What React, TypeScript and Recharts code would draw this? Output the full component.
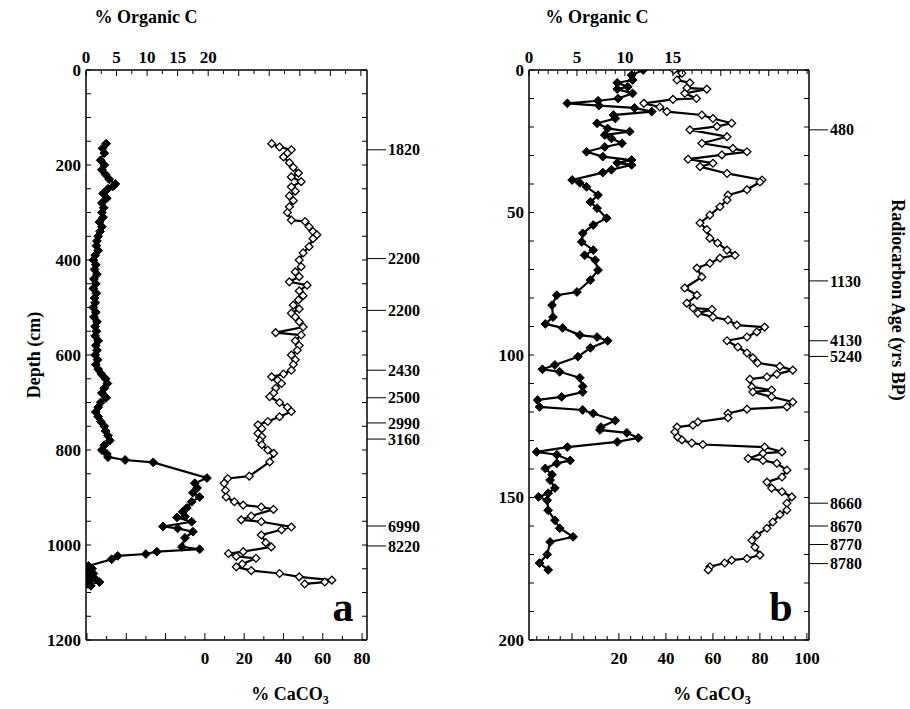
import React from 'react';
import { ScatterChart, Scatter, XAxis, YAxis, Label } from 'recharts';

const FONT = '"Liberation Serif", "Times New Roman", Times, serif';

// ---------- Panel a (depth cm, value) ----------
const aOrganicC: [number, number][] = [
  [155, 3.3], [165, 2.7], [175, 3.0], [190, 2.4], [200, 3.0], [210, 2.6], [220, 3.2], [230, 3.8], [240, 4.8], [245, 4.4],
  [250, 3.6], [260, 2.8], [270, 3.4], [280, 2.6], [290, 2.9], [300, 2.6], [310, 2.8], [320, 2.2], [330, 2.6], [340, 2.3],
  [350, 2.0], [360, 1.8], [370, 1.7], [380, 2.0], [390, 1.5], [400, 1.2], [410, 1.6], [420, 1.4], [430, 1.8], [440, 1.3],
  [450, 1.6], [460, 1.2], [470, 1.7], [480, 1.4], [490, 1.5], [500, 1.2], [510, 1.6], [520, 1.3], [530, 1.8], [540, 1.5],
  [550, 1.7], [560, 1.5], [570, 2.0], [580, 1.6], [590, 1.8], [600, 1.5], [610, 1.9], [620, 1.6], [630, 2.0], [640, 2.5],
  [650, 3.2], [660, 3.5], [670, 3.0], [680, 2.6], [690, 3.3], [700, 2.4], [710, 2.0], [720, 1.6], [730, 2.0], [740, 2.4],
  [750, 3.0], [760, 3.2], [770, 3.6], [780, 3.9], [790, 3.0], [800, 2.6], [808, 3.4], [815, 3.6], [821, 6.4], [826, 11.0],
  [859, 19.8], [870, 17.8], [880, 18.2], [890, 17.5], [899, 18.6], [909, 17.3], [922, 16.5], [930, 15.8], [940, 16.2], [942, 14.9],
  [951, 17.3], [961, 12.6], [965, 15.0], [972, 17.5], [985, 16.2], [1004, 15.7], [1009, 18.6], [1014, 11.6], [1019, 9.8], [1023, 5.2],
  [1030, 4.2], [1044, 0.4], [1050, 1.0], [1055, 0.3], [1060, 1.2], [1065, 0.5], [1070, 1.4], [1075, 0.6], [1078, 2.2], [1082, 0.3],
  [1086, 0.8],
];

const aCaCO3: [number, number][] = [
  [155, 34], [162, 38], [168, 44], [175, 42], [183, 40], [195, 43], [205, 45], [217, 47.6], [225, 44], [235, 49],
  [246, 44], [255, 46], [265, 43], [275, 45], [288, 43], [300, 42], [316, 44], [319, 51], [330, 53], [340, 55],
  [347, 57], [355, 55], [372, 53], [385, 50], [400, 48], [414, 49], [425, 46], [435, 48], [446, 43], [453, 52],
  [465, 48], [475, 50], [484, 47.6], [495, 45], [503, 48], [512, 44], [520, 46], [530, 48], [541, 50], [553, 36],
  [558, 49], [570, 46], [580, 48], [590, 47], [600, 44], [610, 46], [620, 45], [632, 44], [640, 40], [646, 34],
  [653, 37], [660, 39], [670, 36], [680, 35], [688, 33], [700, 38], [710, 42], [719, 44], [730, 38], [740, 32],
  [747, 27], [755, 29], [765, 27], [772, 29], [780, 28], [789, 29], [800, 32], [807, 35], [825, 33], [855, 22.6],
  [860, 11.6], [870, 9.8], [885, 10.5], [899, 10.8], [909, 15], [916, 19.5], [920, 28.7], [925, 34.9], [939, 23.6], [947, 18.5],
  [951, 28.7], [962, 44], [968, 39], [979, 28.7], [995, 31], [1004, 33.8], [1014, 19.5], [1018, 12], [1024, 16], [1028, 26],
  [1040, 19], [1046, 16], [1054, 23.6], [1060, 38], [1067, 48], [1074, 64.6], [1078, 61], [1082, 50.8],
];

const aAges: [number, string][] = [
  [168, '1820'], [397, '2200'], [506, '2200'], [632, '2430'], [690, '2500'],
  [743, '2990'], [777, '3160'], [960, '6990'], [1002, '8220'],
];

// ---------- Panel b ----------
const bOrganicC: [number, number][] = [
  [0, 11.9], [1.8, 10.7], [3.5, 10.8], [4.5, 9.2], [5.9, 10.3], [6.7, 9.2], [8.2, 10.8], [10, 9.3], [10.8, 7.2], [11.7, 4.0],
  [12.5, 7.3], [13.3, 11.0], [14.6, 12.8], [15.8, 8.8], [17, 9.0], [18.7, 7.1], [20.5, 8.2], [21.6, 10.5], [22.8, 7.9], [24, 8.6],
  [25.7, 9.7], [27, 7.9], [28.7, 6.0], [30.4, 7.7], [31.6, 10.7], [32.6, 9.2], [33.3, 10.7], [35, 8.6], [36, 7.7], [38.6, 4.5],
  [39.6, 5.3], [41, 6.0], [43.9, 7.2], [46.3, 6.4], [48.5, 7.1], [52, 8.1], [54.4, 6.7], [57.3, 5.6], [60.3, 5.5], [63.2, 6.7],
  [65, 5.8], [66.7, 6.9], [70.2, 7.2], [73.7, 6.4], [77.9, 5.0], [79, 2.9], [82.5, 2.4], [86.7, 2.5], [89.1, 1.7], [90.5, 3.5],
  [93, 5.3], [93.7, 7.1], [95, 8.2], [97.5, 6.4], [100.6, 5.1], [103.5, 2.7], [105, 1.4], [105.9, 3.2], [108, 5.3], [111, 5.6],
  [113, 5.6], [114.7, 3.4], [115.8, 0.9], [118.2, 1.1], [119.3, 5.6], [120.5, 6.7], [123, 9.0], [125.3, 7.5], [126.3, 7.4], [127.3, 10.2],
  [129.1, 11.4], [130.5, 9.2], [132.3, 4.0], [134, 0.8], [135, 2.9], [137, 4.3], [138, 2.9], [139.8, 1.7], [142, 2.4], [143.9, 2.2],
  [146.7, 2.7], [148.5, 2.0], [149.8, 1.0], [151, 1.9], [154.5, 2.0], [158, 2.7], [160.8, 3.2], [163.8, 4.6], [165.6, 2.2], [170, 1.9],
  [173, 1.1], [175.4, 2.0],
];

const bCaCO3: [number, number][] = [
  [0, 43.4], [1.1, 46.8], [3.5, 44.7], [4.5, 50.2], [6.3, 48.9], [6.7, 57.4], [8.2, 48], [10, 53], [10.3, 43], [11.7, 30.6],
  [13, 37.4], [14.6, 40.4], [15.8, 55.3], [17, 60], [18.7, 68], [19.8, 61.7], [21, 50.2], [23.4, 66], [25.7, 55.3], [27.5, 68.5],
  [28.7, 74.5], [29.8, 63.8], [31.3, 49.4], [32.7, 60], [33.9, 54.5], [36.3, 66], [38.6, 80.9], [39.3, 80], [42, 74.5], [43.9, 66.4],
  [45.6, 66], [48, 63], [50.9, 58.7], [53.7, 54.5], [56, 57.4], [59, 58.7], [60.7, 62], [63.2, 66], [65, 69.4], [66, 63],
  [67.8, 58.7], [69.5, 53.2], [72.6, 55.3], [76.5, 48], [79, 53.2], [81.8, 48.9], [83.5, 51.5], [84, 59.6], [85.3, 53.6], [86.7, 60],
  [87.7, 66.4], [89.5, 70.2], [90.2, 82], [91.9, 78.7], [93.7, 74.5], [95, 66], [97.2, 70.6], [99.3, 74.5], [101, 77], [102.8, 79],
  [104, 88.5], [105.3, 94], [106.7, 87.2], [107.7, 83], [108.5, 75.7], [111.2, 76.6], [112.3, 85], [113, 77], [114.7, 85], [116.5, 94],
  [118.2, 91.5], [119, 74.5], [120.5, 66.4], [122, 66.4], [123.5, 53.6], [124.6, 51.5], [125.3, 44.7], [127, 43.8], [128.8, 45], [129.8, 46.8],
  [130.9, 51], [131.4, 55.7], [132.3, 82], [134, 89.4], [134.5, 81.3], [136.3, 75], [137, 81.3], [138, 87.2], [140.4, 91.5], [142.8, 89.4],
  [144.6, 83], [146.7, 85], [148, 89.4], [149.8, 93.6], [152, 91.5], [154.4, 91.5], [156, 88.5], [158.6, 85.5], [160.8, 83], [163.2, 78.7],
  [165, 76.6], [167.4, 77.9], [170.2, 80], [171.4, 74.5], [172, 68], [173, 65], [174.3, 58.7], [175.4, 58],
];

const bAges: [number, string][] = [
  [21, '480'], [74, '1130'], [95, '4130'], [100.5, '5240'],
  [152, '8660'], [160, '8670'], [166.5, '8770'], [173.2, '8780'],
];

// ---------- tick labels ----------
const aDepthLabels = [0, 200, 400, 600, 800, 1000, 1200];
const bDepthLabels = [0, 50, 100, 150, 200];
const aOrgLabels = [0, 5, 10, 15, 20];
const bOrgLabels = [0, 5, 10, 15];
const aCaLabels = [0, 20, 40, 60, 80];
const bCaLabels = [20, 40, 60, 80, 100];

const steps = (from: number, to: number, step: number) => {
  const out: number[] = [];
  for (let v = from; v <= to + 1e-9; v += step) out.push(Math.round(v * 1000) / 1000);
  return out;
};

const mergeTicks = (regular: number[], ages: [number, string][]) => {
  const agePos = ages.map((a) => a[0]);
  const rest = regular.filter((r) => !agePos.some((a) => Math.abs(a - r) < 1e-6));
  return [...rest, ...agePos].sort((p, q) => p - q);
};

const toOrg = (arr: [number, number][]) => arr.map(([depth, org]) => ({ depth, org }));
const toCa = (arr: [number, number][]) => arr.map(([depth, ca]) => ({ depth, ca }));

const has = (list: number[], v: number) => list.some((l) => Math.abs(l - v) < 1e-6);
const isMult = (v: number, m: number) => Math.abs(v / m - Math.round(v / m)) < 1e-6;

const txt = { style: { fontFamily: FONT, fontWeight: 700 }, fill: '#000' };

// ---------- shapes ----------
const FilledDiamond = (props: any) => {
  const { cx, cy } = props;
  if (cx == null || cy == null) return null;
  const r = 4.4;
  return (
    <polygon
      points={`${cx},${cy - r} ${cx + r},${cy} ${cx},${cy + r} ${cx - r},${cy}`}
      fill="#000"
      stroke="#000"
      strokeWidth={1}
    />
  );
};
const OpenDiamond = (props: any) => {
  const { cx, cy } = props;
  if (cx == null || cy == null) return null;
  const r = 3.9;
  return (
    <polygon
      points={`${cx},${cy - r} ${cx + r},${cy} ${cx},${cy + r} ${cx - r},${cy}`}
      fill="#fff"
      stroke="#000"
      strokeWidth={1.3}
    />
  );
};

// ---------- ticks ----------
const leftTick = (labels: number[]) => (p: any) => {
  const { x, y, payload } = p;
  const v = payload.value;
  return (
    <g>
      <line x1={x} x2={x + 5} y1={y} y2={y} stroke="#000" strokeWidth={1} />
      {has(labels, v) && (
        <text x={x - 5} y={y} dy="0.35em" textAnchor="end" fontSize={17} {...txt}>
          {v}
        </text>
      )}
    </g>
  );
};

const topTick = (labels: number[], major: number) => (p: any) => {
  const { x, y, payload } = p;
  const v = payload.value;
  const len = isMult(v, major) ? 6 : 4;
  return (
    <g>
      <line x1={x} x2={x} y1={y} y2={y + len} stroke="#000" strokeWidth={1} />
      {has(labels, v) && (
        <text x={x} y={y - 7} textAnchor="middle" fontSize={17} {...txt}>
          {v}
        </text>
      )}
    </g>
  );
};

const bottomTick = (labels: number[], major: number) => (p: any) => {
  const { x, y, payload } = p;
  const v = payload.value;
  const len = isMult(v, major) ? 7 : 4;
  return (
    <g>
      <line x1={x} x2={x} y1={y} y2={y - len} stroke="#000" strokeWidth={1} />
      {has(labels, v) && (
        <text x={x} y={y + 24} textAnchor="middle" fontSize={17} {...txt}>
          {v}
        </text>
      )}
    </g>
  );
};

const rightTick = (ages: [number, string][]) => (p: any) => {
  const { x, y, payload } = p;
  const v = payload.value;
  const age = ages.find((a) => Math.abs(a[0] - v) < 1e-6);
  if (age) {
    return (
      <g>
        <line x1={x} x2={x + 19} y1={y} y2={y} stroke="#000" strokeWidth={1} />
        <text x={x + 21} y={y} dy="0.35em" textAnchor="start" fontSize={16} {...txt}>
          {age[1]}
        </text>
      </g>
    );
  }
  return <line x1={x} x2={x - 5} y1={y} y2={y} stroke="#000" strokeWidth={1} />;
};

// ---------- labels ----------
const topTitle = (dx: number) => (props: any) => {
  const vb = props.viewBox || {};
  return (
    <text x={vb.x + dx} y={vb.y - 17} textAnchor="middle" fontSize={18} {...txt}>
      % Organic C
    </text>
  );
};

const bottomTitle = (dx: number) => (props: any) => {
  const vb = props.viewBox || {};
  return (
    <text x={vb.x + dx} y={vb.y + 60} textAnchor="middle" fontSize={18} {...txt}>
      % CaCO
      <tspan fontSize={12} dy={4}>3</tspan>
    </text>
  );
};

const depthTitle = (props: any) => {
  const vb = props.viewBox || {};
  const cx = vb.x + 8;
  const cy = vb.y + vb.height / 2;
  return (
    <text x={cx} y={cy} transform={`rotate(-90 ${cx} ${cy})`} dy="0.35em" textAnchor="middle" fontSize={18} {...txt}>
      Depth (cm)
    </text>
  );
};

const ageTitle = (props: any) => {
  const vb = props.viewBox || {};
  const cx = vb.x + 89;
  const cy = vb.y + 230;
  return (
    <text x={cx} y={cy} transform={`rotate(90 ${cx} ${cy})`} dy="0.35em" textAnchor="middle" fontSize={18} {...txt}>
      Radiocarbon Age (yrs BP)
    </text>
  );
};

const axisLineStyle = { stroke: '#000', strokeWidth: 1.5 };
const seriesLine = { stroke: '#000', strokeWidth: 2.2 };

const PanelA = () => {
  const depthTicks = steps(0, 1200, 50);
  const ageTicks = mergeTicks(depthTicks, aAges);
  return (
    <ScatterChart width={450} height={709} margin={{ top: 40, right: 23, bottom: 39, left: 26 }}>
      <XAxis
        xAxisId="org" orientation="top" type="number" dataKey="org" domain={[0, 46]} allowDataOverflow
        ticks={steps(0, 45, 2.5)} interval={0} height={30} tickSize={0} tickMargin={0} tickLine={false}
        axisLine={axisLineStyle} tick={topTick(aOrgLabels, 5)}
      >
        <Label content={topTitle(60)} />
      </XAxis>
      <XAxis
        xAxisId="ca" orientation="bottom" type="number" dataKey="ca" domain={[-60.5, 82.5]} allowDataOverflow
        ticks={steps(-60, 80, 10)} interval={0} height={30} tickSize={0} tickMargin={0} tickLine={false}
        axisLine={axisLineStyle} tick={bottomTick(aCaLabels, 20)}
      >
        <Label content={bottomTitle(204)} />
      </XAxis>
      <YAxis
        yAxisId="depth" orientation="left" type="number" dataKey="depth" domain={[0, 1200]} reversed allowDataOverflow
        ticks={depthTicks} interval={0} width={60} tickSize={0} tickMargin={0} tickLine={false}
        axisLine={axisLineStyle} tick={leftTick(aDepthLabels)}
      >
        <Label content={depthTitle} />
      </YAxis>
      <YAxis
        yAxisId="age" orientation="right" type="number" dataKey="depth" domain={[0, 1200]} reversed allowDataOverflow
        ticks={ageTicks} interval={0} width={60} tickSize={0} tickMargin={0} tickLine={false}
        axisLine={axisLineStyle} tick={rightTick(aAges)}
      />
      <Scatter
        name="CaCO3 a" data={toCa(aCaCO3)} xAxisId="ca" yAxisId="depth"
        line={seriesLine} lineType="joint" shape={OpenDiamond} isAnimationActive={false}
      />
      <Scatter
        name="Organic C a" data={toOrg(aOrganicC)} xAxisId="org" yAxisId="depth"
        line={seriesLine} lineType="joint" shape={FilledDiamond} isAnimationActive={false}
      />
    </ScatterChart>
  );
};

const PanelB = () => {
  const depthTicks = steps(0, 200, 10);
  const ageTicks = mergeTicks(depthTicks, bAges);
  return (
    <ScatterChart width={460} height={709} margin={{ top: 40, right: 41, bottom: 39, left: 19 }}>
      <XAxis
        xAxisId="org" orientation="top" type="number" dataKey="org" domain={[0, 29.2]} allowDataOverflow
        ticks={steps(0, 29, 1)} interval={0} height={30} tickSize={0} tickMargin={0} tickLine={false}
        axisLine={axisLineStyle} tick={topTick(bOrgLabels, 5)}
      >
        <Label content={topTitle(68)} />
      </XAxis>
      <XAxis
        xAxisId="ca" orientation="bottom" type="number" dataKey="ca" domain={[-18.3, 100.9]} allowDataOverflow
        ticks={steps(-15, 100, 5)} interval={0} height={30} tickSize={0} tickMargin={0} tickLine={false}
        axisLine={axisLineStyle} tick={bottomTick(bCaLabels, 20)}
      >
        <Label content={bottomTitle(183)} />
      </XAxis>
      <YAxis
        yAxisId="depth" orientation="left" type="number" dataKey="depth" domain={[0, 200]} reversed allowDataOverflow
        ticks={depthTicks} interval={0} width={60} tickSize={0} tickMargin={0} tickLine={false}
        axisLine={axisLineStyle} tick={leftTick(bDepthLabels)}
      />
      <YAxis
        yAxisId="age" orientation="right" type="number" dataKey="depth" domain={[0, 200]} reversed allowDataOverflow
        ticks={ageTicks} interval={0} width={60} tickSize={0} tickMargin={0} tickLine={false}
        axisLine={axisLineStyle} tick={rightTick(bAges)}
      >
        <Label content={ageTitle} />
      </YAxis>
      <Scatter
        name="CaCO3 b" data={toCa(bCaCO3)} xAxisId="ca" yAxisId="depth"
        line={seriesLine} lineType="joint" shape={OpenDiamond} isAnimationActive={false}
      />
      <Scatter
        name="Organic C b" data={toOrg(bOrganicC)} xAxisId="org" yAxisId="depth"
        line={seriesLine} lineType="joint" shape={FilledDiamond} isAnimationActive={false}
      />
    </ScatterChart>
  );
};

export default function App() {
  return (
    <div style={{ position: 'absolute', left: 0, top: 0, width: 910, height: 709, background: '#fff', overflow: 'hidden' }}>
      <div style={{ position: 'absolute', left: 0, top: 0, width: 450, height: 709 }}>
        <PanelA />
      </div>
      <div style={{ position: 'absolute', left: 450, top: 0, width: 460, height: 709 }}>
        <PanelB />
      </div>
      <svg width={910} height={709} style={{ position: 'absolute', left: 0, top: 0, pointerEvents: 'none' }}>
        <text x={343} y={621} textAnchor="middle" fontSize={42} {...txt}>a</text>
        <text x={781} y={621} textAnchor="middle" fontSize={42} {...txt}>b</text>
      </svg>
    </div>
  );
}
